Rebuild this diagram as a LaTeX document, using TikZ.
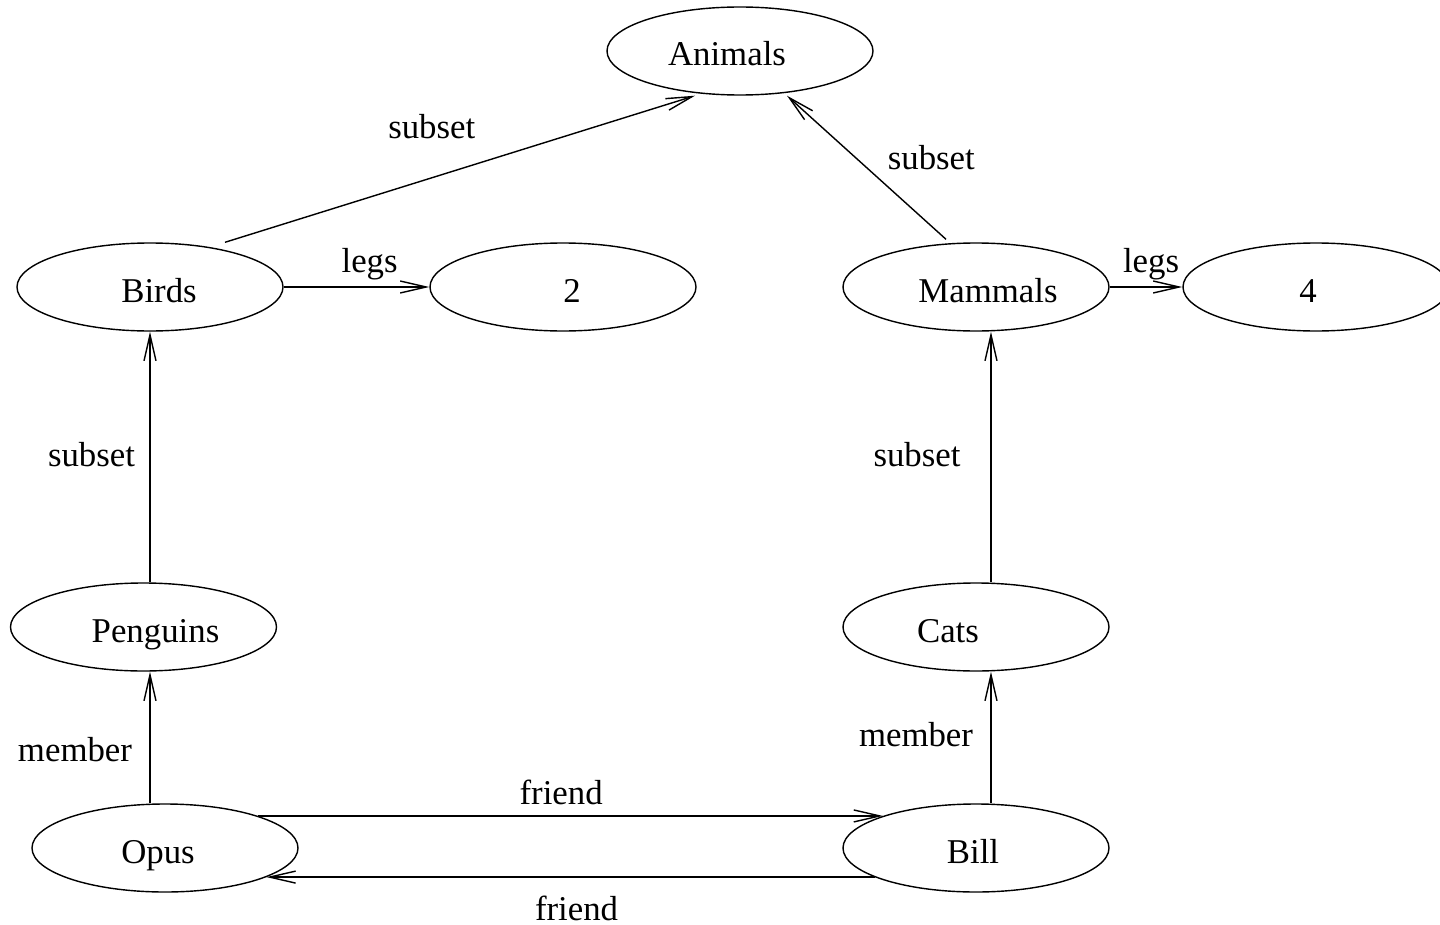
\documentclass[tikz,border=0pt]{standalone}
\usepackage{fontspec}
\setmainfont{Liberation Serif}
\usetikzlibrary{positioning, shapes.geometric, arrows.meta}

\tikzset{
  set/.style={draw, ellipse, minimum width=5.32cm, minimum height=1.76cm, inner sep=0pt,
    text height=0.6cm, text depth=0pt},
}

\begin{document}
\begin{tikzpicture}[node distance=6.8cm, on grid, line width=0.8pt,
    >={Straight Barb[length=0.52cm, width=0.24cm]},
    every node/.style={font=\fontsize{19.8}{24}\selectfont}]
    \useasboundingbox (-3,5.74) rectangle (25.8,-12.76);

    \node[set] (birds)    {\hspace*{0.36cm}Birds};
    \node[set] (two)      [right=8.26cm of birds] {\hspace*{0.36cm}2};
    \node[set] (mammals)  [right=8.26cm of two] {\hspace*{0.48cm}Mammals};
    \node[set] (four)     [right=6.8cm of mammals] {4\hspace*{0.32cm}};
    \node[set] (animals)  [above right=4.72cm and 11.8cm of birds] {Animals\hspace*{0.52cm}};
    \node[set] (penguins) [below left=6.8cm and 0.13cm of birds] {\hspace*{0.48cm}Penguins};
    \node[set] (cats)     [below=of mammals] {Cats\hspace*{1.12cm}};
    \node[set] (opus)     [below right=4.42cm and 0.43cm of penguins] {Opus\hspace*{0.28cm}};
    \node[set] (bill)     [below=4.42cm of cats] {Bill\hspace*{0.12cm}};

    \path[->]
    ([xshift=1.5cm]birds.north) edge node[pos=0.44, yshift=1.02cm] {subset} ([xshift=-0.9cm]animals.south)
    ([xshift=-0.6cm, yshift=0.06cm]mammals.north) edge node[pos=0.57, xshift=1.52cm] {subset} ([xshift=0.94cm]animals.south)
    (birds) edge node[pos=0.59, yshift=0.46cm] {legs} (two)
    (mammals) edge node[pos=0.57, yshift=0.46cm] {legs} (four)
    (penguins.north -| birds.south) edge node[pos=0.51, xshift=-1.17cm] {subset} (birds.south)
    (opus.north -| birds.south) edge node[pos=0.41, xshift=-1.5cm] {member} (penguins.south -| birds.south)
    ([xshift=0.3cm]cats.north) edge node[pos=0.51, xshift=-1.48cm] {subset} ([xshift=0.3cm]mammals.south)
    ([xshift=0.3cm]bill.north) edge node[pos=0.52, xshift=-1.5cm] {member} ([xshift=0.3cm]cats.south)
    (opus.19) edge node[pos=0.485, yshift=0.48cm] {friend} (bill.161)
    (bill.196) edge node[pos=0.49, yshift=-0.62cm] {friend} (opus.344);
\end{tikzpicture}
\end{document}
